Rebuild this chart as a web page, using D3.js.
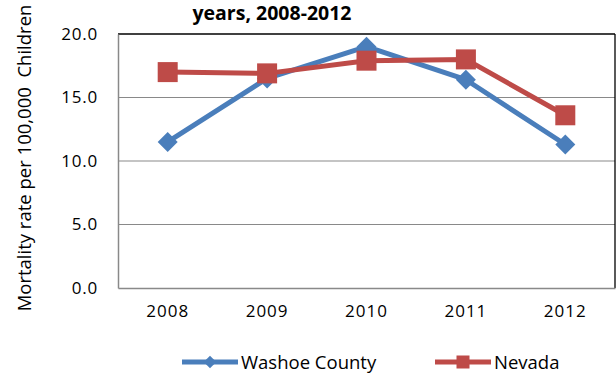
<!DOCTYPE html>
<html><head><meta charset="utf-8">
<script src="https://cdn.jsdelivr.net/npm/d3@7"></script>
<style>body{margin:0;background:#fff;}svg{display:block;font-family:"Open Sans","DejaVu Sans",sans-serif;}</style>
</head><body><svg id="c" width="616" height="373"></svg>
<script>
const years = ["2008","2009","2010","2011","2012"];
const washoe = [11.5, 16.5, 19.0, 16.4, 11.3];
const nevada = [17.0, 16.9, 17.9, 18.0, 13.6];
const yTicks = [0, 5, 10, 15, 20];
const seriesNames = ["Washoe County", "Nevada"];
const colors = ["#4a7ebb", "#be4b48"];

const svg = d3.select("#c");
const L = 118, R = 615, T = 34, B = 288;
const x = d3.scaleBand().domain(years).range([L, R]);
const y = d3.scaleLinear().domain([0, 20]).range([B, T]);

// gridlines
svg.append("g").selectAll("line").data(yTicks.slice(1, 4)).join("line")
  .attr("x1", L).attr("x2", R).attr("y1", d => y(d)).attr("y2", d => y(d))
  .attr("stroke", "#898989").attr("stroke-width", 1.2);
// plot border
svg.append("line").attr("x1", L).attr("x2", R).attr("y1", T).attr("y2", T).attr("stroke", "#000").attr("stroke-width", 1.3);
svg.append("line").attr("x1", R).attr("x2", R).attr("y1", T).attr("y2", B).attr("stroke", "#000").attr("stroke-width", 1.3);

const yAxis = svg.append("g").attr("transform", `translate(${L},0)`)
  .call(d3.axisLeft(y).tickValues(yTicks).tickFormat(d3.format(".1f")).tickSize(0).tickPadding(20));
yAxis.select(".domain").attr("stroke", "#898989").attr("stroke-width", 1.5);
yAxis.selectAll("text").attr("font-size", 17).attr("letter-spacing", 0.8).attr("fill", "#000").attr("font-family", "Open Sans, sans-serif");

const xAxis = svg.append("g").attr("transform", `translate(0,${B})`)
  .call(d3.axisBottom(x).tickSize(0).tickPadding(17));
xAxis.select(".domain").attr("stroke", "#898989").attr("stroke-width", 1.5);
xAxis.selectAll("text").attr("font-size", 17).attr("letter-spacing", 1).attr("fill", "#000").attr("font-family", "Open Sans, sans-serif");

const line = d3.line().x((d, i) => x(years[i]) + x.bandwidth() / 2).y(d => y(d));
const data = [washoe, nevada];

data.forEach((vals, si) => {
  svg.append("path").datum(vals).attr("d", line).attr("fill", "none")
    .attr("stroke", colors[si]).attr("stroke-width", 5).attr("stroke-linejoin", "round");
});
// markers
const diamond = d3.symbol().type(d3.symbolSquare).size(200);
svg.append("g").selectAll("path").data(washoe).join("path")
  .attr("d", diamond)
  .attr("transform", (d, i) => `translate(${x(years[i]) + x.bandwidth() / 2},${y(d)}) rotate(45)`)
  .attr("fill", colors[0]);
svg.append("g").selectAll("rect").data(nevada).join("rect")
  .attr("x", (d, i) => x(years[i]) + x.bandwidth() / 2 - 10)
  .attr("y", d => y(d) - 10).attr("width", 20).attr("height", 20)
  .attr("fill", colors[1]);

// title
svg.append("text").attr("x", 272).attr("y", 20).attr("text-anchor", "middle")
  .attr("font-size", 19.5).attr("font-weight", "bold").attr("font-family", "Open Sans, sans-serif")
  .text("years, 2008-2012");

// y label
svg.append("text").attr("transform", "translate(31,158) rotate(-90)").attr("text-anchor", "middle")
  .attr("font-size", 18.5).attr("font-family", "Open Sans, sans-serif")
  .attr("xml:space", "preserve").style("white-space", "pre")
  .text("Mortality rate per 100,000  Children");

// legend
const leg = [{x: 182, name: seriesNames[0], c: colors[0], m: "d"}, {x: 435, name: seriesNames[1], c: colors[1], m: "s"}];
leg.forEach(l => {
  const g = svg.append("g");
  g.append("line").attr("x1", l.x).attr("x2", l.x + 56).attr("y1", 362).attr("y2", 362)
    .attr("stroke", l.c).attr("stroke-width", 5);
  if (l.m === "d") {
    g.append("path").attr("d", d3.symbol().type(d3.symbolSquare).size(80))
      .attr("transform", `translate(${l.x + 28},362) rotate(45)`).attr("fill", l.c);
  } else {
    g.append("rect").attr("x", l.x + 21.5).attr("y", 355.5).attr("width", 13).attr("height", 13).attr("fill", l.c);
  }
  g.append("text").attr("x", l.x + 59).attr("y", 368.5).attr("font-size", 18.5)
    .attr("font-family", "Open Sans, sans-serif").text(l.name);
});
</script></body></html>
